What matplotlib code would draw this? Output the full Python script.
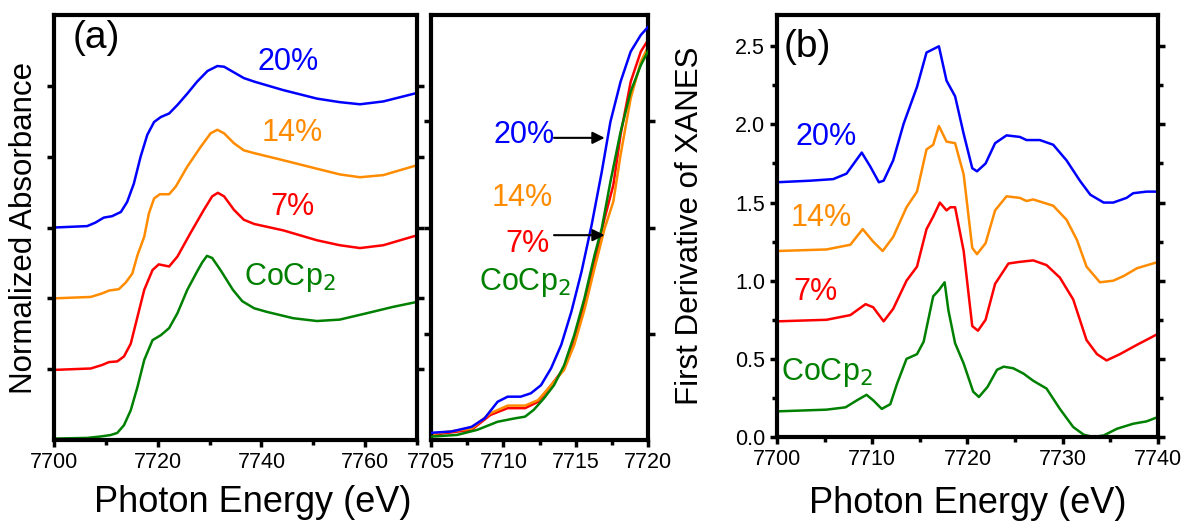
import matplotlib.pyplot as plt
from matplotlib.ticker import MultipleLocator

plt.rcParams['font.family'] = ['Liberation Sans', 'DejaVu Sans']

# ---- panel (a), full range (stacked, arbitrary units) ----
E_cocp2 = [7700, 7706.4, 7709.0, 7710.9, 7712.2, 7713.5, 7714.8, 7716.1, 7717.4, 7719.0, 7720.6,
           7722.2, 7723.8, 7725.7, 7727.6, 7728.6, 7729.5, 7730.5, 7732.1, 7733.3, 7734.5, 7736.3,
           7738.6, 7741.0, 7746.1, 7750.7, 7755.1, 7760.3, 7765.4, 7770]
A_cocp2 = [0.02, 0.03, 0.05, 0.07, 0.10, 0.21, 0.42, 0.75, 1.13, 1.41, 1.48,
           1.58, 1.79, 2.12, 2.38, 2.51, 2.60, 2.57, 2.40, 2.26, 2.12, 1.96,
           1.86, 1.81, 1.72, 1.68, 1.70, 1.79, 1.88, 1.95]

E_7 = [7700, 7707.1, 7709.3, 7710.6, 7712.2, 7713.5, 7714.8, 7716.1, 7717.4, 7719.0, 7720.2,
       7722.2, 7723.8, 7726.3, 7728.9, 7730.5, 7731.6, 7732.8, 7734.7, 7736.6, 7738.6, 7744.2,
       7750.7, 7755.1, 7759.0, 7763.5, 7770]
A_7 = [0.99, 1.01, 1.06, 1.10, 1.11, 1.18, 1.36, 1.74, 2.12, 2.40, 2.48,
       2.45, 2.59, 2.92, 3.25, 3.44, 3.49, 3.44, 3.25, 3.11, 3.05, 2.96,
       2.82, 2.75, 2.71, 2.75, 2.89]

E_14 = [7700, 7707.1, 7709.3, 7710.6, 7712.5, 7713.8, 7715.1, 7716.1, 7717.4, 7718.3, 7719.3,
        7720.4, 7722.2, 7723.5, 7725.7, 7728.3, 7730.2, 7731.5, 7732.8, 7734.7, 7736.6, 7738.6,
        7744.2, 7750.7, 7755.1, 7759.0, 7763.5, 7770]
A_14 = [2.00, 2.02, 2.07, 2.11, 2.13, 2.22, 2.35, 2.61, 2.87, 3.20, 3.41,
        3.47, 3.47, 3.58, 3.86, 4.14, 4.33, 4.38, 4.33, 4.19, 4.09, 4.05,
        3.95, 3.83, 3.75, 3.71, 3.74, 3.88]

E_20 = [7700, 7706.4, 7708.0, 7709.6, 7711.2, 7712.9, 7714.1, 7715.4, 7716.7, 7718.0, 7719.3,
        7720.6, 7722.2, 7723.8, 7725.7, 7727.6, 7729.6, 7731.5, 7732.8, 7734.7, 7736.6, 7738.6,
        7744.2, 7750.7, 7755.1, 7759.0, 7763.5, 7770]
A_20 = [3.00, 3.02, 3.07, 3.14, 3.16, 3.22, 3.36, 3.62, 4.00, 4.31, 4.49,
        4.56, 4.61, 4.73, 4.89, 5.06, 5.21, 5.28, 5.27, 5.19, 5.11, 5.06,
        4.94, 4.82, 4.77, 4.74, 4.78, 4.90]

# ---- panel (a), edge zoom ----
Ez_20 = [7705, 7706.4, 7707.8, 7708.7, 7709.6, 7710.3, 7711.2, 7711.9, 7712.6, 7713.3, 7714.0,
         7714.7, 7715.4, 7716.1, 7716.8, 7717.4, 7718.1, 7718.8, 7719.5, 7720]
Z_20 = [0.017, 0.020, 0.031, 0.051, 0.090, 0.102, 0.102, 0.110, 0.129, 0.169, 0.224,
        0.302, 0.396, 0.506, 0.631, 0.749, 0.843, 0.914, 0.953, 0.972]
Ez_cocp2 = [7705, 7706.8, 7708.2, 7709.6, 7710.8, 7711.5, 7712.1, 7712.8, 7713.5, 7714.2,
            7714.9, 7715.6, 7716.3, 7716.8, 7717.4, 7718.1, 7718.8, 7719.5, 7720]
Z_cocp2 = [0.008, 0.012, 0.024, 0.043, 0.051, 0.055, 0.071, 0.098, 0.129, 0.176,
           0.247, 0.333, 0.435, 0.498, 0.608, 0.725, 0.820, 0.882, 0.915]
Ez_7 = [7705, 7707.8, 7709.1, 7710.3, 7711.5, 7712.4, 7713.3, 7714.2, 7714.9, 7715.6,
        7716.3, 7717.0, 7717.6, 7718.1, 7718.8, 7719.5, 7720]
Z_7 = [0.012, 0.024, 0.059, 0.075, 0.075, 0.090, 0.129, 0.169, 0.231, 0.318,
       0.420, 0.522, 0.600, 0.718, 0.843, 0.914, 0.941]
Ez_14 = [7705, 7707.8, 7709.1, 7710.3, 7711.5, 7712.4, 7713.3, 7714.2, 7714.9, 7715.6,
         7716.3, 7717.0, 7717.6, 7718.1, 7718.8, 7719.5, 7720]
Z_14 = [0.014, 0.027, 0.063, 0.081, 0.081, 0.094, 0.129, 0.165, 0.224, 0.306,
        0.404, 0.498, 0.561, 0.671, 0.804, 0.890, 0.925]

# ---- panel (b), first derivative ----
Ed_20 = [7700, 7703.5, 7705.9, 7707.3, 7708.9, 7709.8, 7710.7, 7711.2, 7712.2, 7713.3, 7714.7,
         7715.7, 7717.0, 7717.8, 7718.7, 7719.6, 7720.5, 7721.0, 7721.9, 7722.9, 7724.1, 7725.5,
         7726.2, 7727.6, 7729.0, 7730.4, 7731.8, 7732.9, 7734.3, 7735.3, 7736.7, 7737.4, 7738.8, 7740]
D_20 = [1.63, 1.64, 1.65, 1.685, 1.82, 1.73, 1.63, 1.64, 1.77, 2.005, 2.24,
        2.46, 2.50, 2.28, 2.18, 1.94, 1.72, 1.70, 1.75, 1.88, 1.93, 1.92,
        1.90, 1.90, 1.87, 1.77, 1.64, 1.55, 1.50, 1.50, 1.53, 1.56, 1.57, 1.57]
Ed_14 = [7700, 7705.2, 7707.7, 7709.0, 7710.1, 7711.1, 7712.2, 7713.6, 7714.7, 7715.7, 7716.4,
         7717.0, 7717.8, 7718.7, 7719.6, 7720.5, 7721.0, 7721.9, 7722.9, 7724.1, 7725.5, 7726.2,
         7726.9, 7729.0, 7730.4, 7731.5, 7732.5, 7733.9, 7735.3, 7736.4, 7737.8, 7740]
D_14 = [1.19, 1.20, 1.23, 1.33, 1.25, 1.19, 1.28, 1.47, 1.57, 1.84, 1.87,
        1.99, 1.89, 1.88, 1.68, 1.21, 1.17, 1.24, 1.45, 1.54, 1.53, 1.51,
        1.52, 1.48, 1.39, 1.26, 1.09, 0.99, 1.00, 1.03, 1.08, 1.12]
Ed_7 = [7700, 7705.2, 7707.7, 7709.3, 7710.1, 7711.2, 7712.2, 7713.6, 7714.7, 7715.7, 7716.4,
        7717.1, 7717.8, 7718.2, 7718.7, 7719.6, 7720.5, 7721.1, 7721.9, 7722.9, 7724.3, 7725.4,
        7726.9, 7728.3, 7729.7, 7731.1, 7732.5, 7733.6, 7734.6, 7736.0, 7737.8, 7740]
D_7 = [0.74, 0.75, 0.78, 0.85, 0.83, 0.74, 0.82, 1.00, 1.09, 1.33, 1.41,
       1.50, 1.45, 1.47, 1.47, 1.19, 0.71, 0.68, 0.75, 0.98, 1.11, 1.12,
       1.13, 1.10, 1.02, 0.88, 0.62, 0.53, 0.49, 0.53, 0.59, 0.66]
Ed_cocp2 = [7700, 7705.2, 7707.2, 7708.4, 7709.4, 7710.1, 7711.0, 7711.9, 7712.6, 7713.6, 7714.7,
            7715.4, 7716.4, 7717.0, 7717.6, 7718.0, 7718.7, 7719.6, 7720.6, 7721.2, 7722.1, 7723.1,
            7723.8, 7724.8, 7725.9, 7726.9, 7728.3, 7729.7, 7731.1, 7732.2, 7733.2, 7734.3, 7735.7,
            7737.4, 7738.8, 7740]
D_cocp2 = [0.164, 0.175, 0.19, 0.235, 0.27, 0.235, 0.18, 0.21, 0.34, 0.50, 0.53,
           0.61, 0.90, 0.94, 0.99, 0.81, 0.60, 0.47, 0.29, 0.256, 0.32, 0.43,
           0.45, 0.44, 0.405, 0.36, 0.31, 0.18, 0.064, 0.015, 0.0, 0.01, 0.053,
           0.085, 0.10, 0.128]

col = {'20': '#0000ff', '14': '#ff8c00', '7': '#ff0000', 'co': '#008000'}
lw = 1.8
fs_lab = 22

fig = plt.figure(figsize=(11.97, 5.29), dpi=100)
ax1 = fig.add_axes([0.0451, 0.1682, 0.3033, 0.8034])
ax2 = fig.add_axes([0.3601, 0.1682, 0.1813, 0.8034])
ax3 = fig.add_axes([0.6491, 0.1739, 0.3183, 0.7977])

for ax in (ax1, ax2, ax3):
    for s in ax.spines.values():
        s.set_linewidth(3)
    ax.tick_params(which='both', direction='out', width=2.5, labelsize=15.5,
                   left=True, right=True, top=False)
    ax.tick_params(which='major', length=5)
    ax.tick_params(which='minor', length=3.5)

# (a) full
ax1.plot(E_cocp2, A_cocp2, color=col['co'], lw=lw)
ax1.plot(E_7, A_7, color=col['7'], lw=lw)
ax1.plot(E_14, A_14, color=col['14'], lw=lw)
ax1.plot(E_20, A_20, color=col['20'], lw=lw)
ax1.set_xlim(7700, 7770)
ax1.set_ylim(0, 6)
ax1.xaxis.set_major_locator(MultipleLocator(20))
ax1.xaxis.set_minor_locator(MultipleLocator(10))
ax1.set_yticks([1, 2, 3, 4, 5])
ax1.set_yticklabels([])
ax1.set_ylabel('Normalized Absorbance', fontsize=22.5)
ax1.yaxis.set_label_coords(-0.04, 0.5)
ax1.text(0.05, 0.945, '(a)', transform=ax1.transAxes, fontsize=28, ha='left', va='center')
ax1.text(7745.1, 5.34, '20%', color=col['20'], fontsize=fs_lab, ha='center', va='center')
ax1.text(7745.9, 4.34, '14%', color=col['14'], fontsize=fs_lab, ha='center', va='center')
ax1.text(7745.9, 3.29, '7%', color=col['7'], fontsize=fs_lab, ha='center', va='center')
ax1.text(7745.5, 2.30, 'CoCp$_2$', color=col['co'], fontsize=fs_lab, ha='center', va='center')

# (a) zoom
ax2.plot(Ez_cocp2, Z_cocp2, color=col['co'], lw=lw, zorder=3)
ax2.plot(Ez_7, Z_7, color=col['7'], lw=lw, zorder=2)
ax2.plot(Ez_14, Z_14, color=col['14'], lw=lw, zorder=2.5)
ax2.plot(Ez_20, Z_20, color=col['20'], lw=lw, zorder=3)
ax2.set_xlim(7705, 7720)
ax2.set_ylim(0, 1)
ax2.xaxis.set_major_locator(MultipleLocator(5))
ax2.xaxis.set_minor_locator(MultipleLocator(2.5))
ax2.set_yticks([0.25, 0.5, 0.75])
ax2.set_yticklabels([])
ax2.text(7711.45, 0.718, '20%', color=col['20'], fontsize=fs_lab, ha='center', va='center')
ax2.text(7711.3, 0.569, '14%', color=col['14'], fontsize=fs_lab, ha='center', va='center')
ax2.text(7711.7, 0.462, '7%', color=col['7'], fontsize=fs_lab, ha='center', va='center')
ax2.text(7711.5, 0.37, 'CoCp$_2$', color=col['co'], fontsize=fs_lab, ha='center', va='center')
ax2.annotate('', xy=(7717.0, 0.711), xytext=(7713.5, 0.711),
             arrowprops=dict(arrowstyle='-|>', color='black', lw=1.5, mutation_scale=18,
                             shrinkA=0, shrinkB=0))
ax2.annotate('', xy=(7717.0, 0.482), xytext=(7713.5, 0.482),
             arrowprops=dict(arrowstyle='-|>', color='black', lw=1.5, mutation_scale=18,
                             shrinkA=0, shrinkB=0))

fig.text(253 / 1197, 1 - 502 / 529, 'Photon Energy (eV)', fontsize=26, ha='center', va='center')

# (b)
ax3.plot(Ed_20, D_20, color=col['20'], lw=lw)
ax3.plot(Ed_14, D_14, color=col['14'], lw=lw)
ax3.plot(Ed_7, D_7, color=col['7'], lw=lw)
ax3.plot(Ed_cocp2, D_cocp2, color=col['co'], lw=lw)
ax3.set_xlim(7700, 7740)
ax3.set_ylim(0, 2.7)
ax3.xaxis.set_major_locator(MultipleLocator(10))
ax3.xaxis.set_minor_locator(MultipleLocator(5))
ax3.yaxis.set_major_locator(MultipleLocator(0.5))
ax3.yaxis.set_minor_locator(MultipleLocator(0.25))
ax3.yaxis.set_major_formatter(plt.FormatStrFormatter('%.1f'))
ax3.set_ylabel('First Derivative of XANES', fontsize=22.5)
ax3.yaxis.set_label_coords(-0.19, 0.5)
ax3.set_xlabel('Photon Energy (eV)', fontsize=26, labelpad=12)
ax3.text(0.079, 0.924, '(b)', transform=ax3.transAxes, fontsize=28, ha='center', va='center')
ax3.text(7705.2, 1.92, '20%', color=col['20'], fontsize=fs_lab, ha='center', va='center')
ax3.text(7704.7, 1.40, '14%', color=col['14'], fontsize=fs_lab, ha='center', va='center')
ax3.text(7704.0, 0.93, '7%', color=col['7'], fontsize=fs_lab, ha='center', va='center')
ax3.text(7705.2, 0.41, 'CoCp$_2$', color=col['co'], fontsize=fs_lab, ha='center', va='center')

fig.savefig('out.png', dpi=100)
